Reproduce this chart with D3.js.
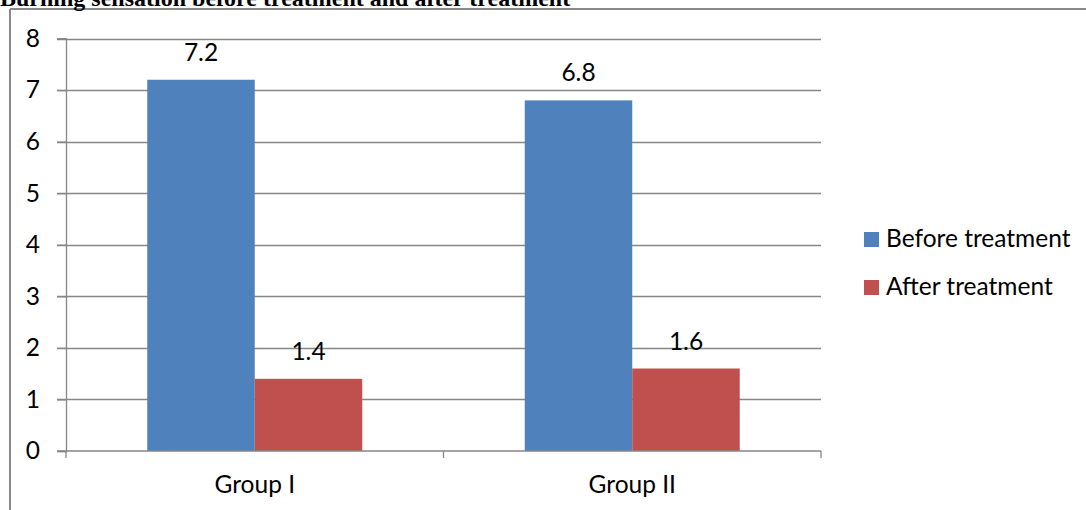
<!DOCTYPE html>
<html><head><meta charset="utf-8">
<script src="https://cdn.jsdelivr.net/npm/d3@7"></script>
<style>body{margin:0;background:#fff}svg{display:block}</style>
</head><body>
<svg id="c" width="1086" height="510"></svg>
<script>
const title = "Burning sensation before treatment and after treatment";
const groups = ["Group I", "Group II"];
const seriesNames = ["Before treatment", "After treatment"];
const beforeValues = [7.2, 6.8];
const afterValues = [1.4, 1.6];
const yTicks = [0, 1, 2, 3, 4, 5, 6, 7, 8];
const colors = ["#4F81BD", "#C0504D"];

const seriesValues = [beforeValues, afterValues];
const svg = d3.select("#c");
const font = "Lato, 'Open Sans', sans-serif";
const fs = 24.5;
const gridColor = "#868686";

// outer chart border (clipped)
svg.append("line").attr("x1", 10).attr("x2", 1086).attr("y1", 9).attr("y2", 9)
  .attr("stroke", "#8a8a8a").attr("stroke-width", 2);
svg.append("line").attr("x1", 10).attr("x2", 10).attr("y1", 9).attr("y2", 510)
  .attr("stroke", "#8a8a8a").attr("stroke-width", 2);

// title (clipped at top, as in the reference)
svg.append("text").attr("x", 0).attr("y", 6)
  .attr("font-family", "'Liberation Serif', 'Times New Roman', serif")
  .attr("font-weight", "bold").attr("font-size", 24).attr("fill", "#000")
  .text(title);

const mLeft = 66, mRight = 821, mTop = 38.5, mBottom = 451;
const y = d3.scaleLinear().domain([0, 8]).range([mBottom, mTop]);
const x0 = d3.scaleBand().domain(groups).range([mLeft, mRight]).paddingInner(0).paddingOuter(0);
const x1 = d3.scaleBand().domain(d3.range(seriesNames.length)).range([0, x0.bandwidth()])
  .paddingInner(0).paddingOuter(0.756);

// gridlines
svg.append("g").selectAll("line").data(yTicks.filter(d => d > 0)).join("line")
  .attr("x1", mLeft - 9).attr("x2", mRight)
  .attr("y1", d => Math.round(y(d)) + 0.5).attr("y2", d => Math.round(y(d)) + 0.5)
  .attr("stroke", gridColor).attr("stroke-width", 1.3);

// y axis
const yAxis = d3.axisLeft(y).tickValues(yTicks).tickSize(9).tickPadding(17);
const gy = svg.append("g").attr("transform", `translate(${mLeft},0)`).call(yAxis);
gy.select(".domain").attr("stroke", gridColor).attr("stroke-width", 1.3);
gy.selectAll(".tick line").attr("stroke", gridColor).attr("stroke-width", 1.3);
gy.selectAll(".tick text").attr("font-family", font).attr("font-size", fs).attr("fill", "#000");

// bars
groups.forEach((g, gi) => {
  seriesValues.forEach((vals, si) => {
    const v = vals[gi];
    svg.append("rect")
      .attr("x", x0(g) + x1(si)).attr("width", x1.bandwidth())
      .attr("y", y(v)).attr("height", y(0) - y(v))
      .attr("fill", colors[si]);
    svg.append("text")
      .attr("x", x0(g) + x1(si) + x1.bandwidth() / 2)
      .attr("y", y(v) - 19)
      .attr("text-anchor", "middle")
      .attr("font-family", font).attr("font-size", fs).attr("fill", "#000")
      .text(v);
  });
});

// x axis
const xAxis = d3.axisBottom(x0).tickSize(0).tickPadding(25);
const gx = svg.append("g").attr("transform", `translate(0,${mBottom})`).call(xAxis);
gx.select(".domain").remove();
gx.selectAll(".tick text").attr("font-family", font).attr("font-size", fs).attr("fill", "#000");
svg.append("line").attr("x1", mLeft - 9).attr("x2", mRight)
  .attr("y1", mBottom).attr("y2", mBottom).attr("stroke", gridColor).attr("stroke-width", 1.5);
const boundaries = groups.map(g => x0(g)).concat([x0.range()[1]]);
svg.append("g").selectAll("line").data(boundaries).join("line")
  .attr("x1", d => d).attr("x2", d => d).attr("y1", mBottom).attr("y2", mBottom + 7)
  .attr("stroke", gridColor).attr("stroke-width", 1.3);

// legend
const lg = svg.append("g");
seriesNames.forEach((n, i) => {
  const yy = 232 + i * 48;
  lg.append("rect").attr("x", 864).attr("y", yy).attr("width", 15).attr("height", 15)
    .attr("fill", colors[i]);
  lg.append("text").attr("x", 886).attr("y", yy + 15)
    .attr("font-family", font).attr("font-size", fs).attr("fill", "#000").text(n);
});
</script>
</body></html>
